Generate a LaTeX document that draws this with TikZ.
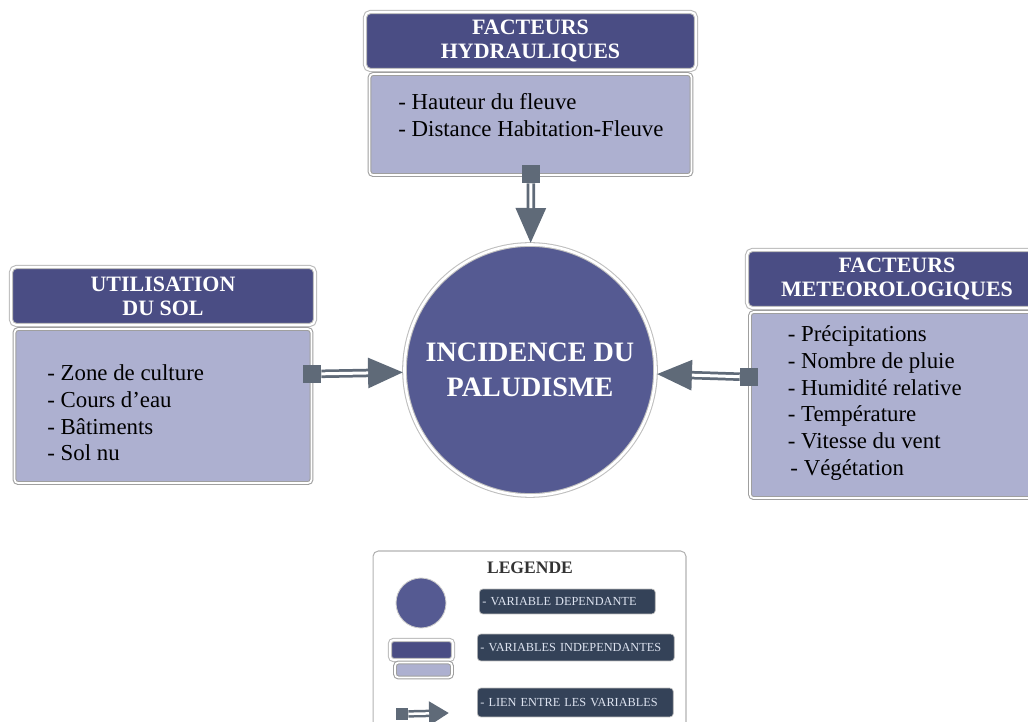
\documentclass[tikz,border=0pt]{standalone}
\usepackage{fontspec}
\setmainfont{Liberation Serif}
\usetikzlibrary{positioning,arrows.meta}
\definecolor{hdcol}{RGB}{74,77,132}
\definecolor{bdcol}{RGB}{173,176,208}
\definecolor{circol}{RGB}{85,90,146}
\definecolor{arrcol}{RGB}{95,106,120}
\definecolor{lgcol}{RGB}{52,66,88}
\definecolor{lgtext}{RGB}{221,227,240}
\begin{document}
\begin{tikzpicture}
  [x=0.02cm,y=-0.02cm,
   headbox/.style={rectangle,fill=hdcol,draw=gray!55,double=white,double distance=1.2pt,
     line width=0.6pt,rounded corners=3pt,text=white,align=center,
     font=\bfseries\fontsize{12.5}{13.6}\selectfont,minimum height=1.16cm},
   bodybox/.style={rectangle,fill=bdcol,draw=gray!75,double=white,double distance=1pt,
     line width=0.6pt,rounded corners=2pt},
   bodytext/.style={inner sep=0pt,align=left,font=\fontsize{13}{15.2}\selectfont},
   linksq/.style={rectangle,fill=arrcol,inner sep=0pt,minimum size=0.36cm},
   linkline/.style={draw=arrcol,line width=0.17cm,-{Triangle[length=0.72cm,width=0.56cm]}},
   linkgap/.style={draw=white,line width=0.06cm,shorten >=0.72cm},
   legtag/.style={rectangle,fill=lgcol,draw=gray!50,rounded corners=2pt,anchor=west,
     inner xsep=0.06cm,text=lgtext,align=left,font=\fontsize{7}{9}\selectfont}]
  \clip (0,0) rectangle (1028,722);

  % central variable
  \node (circ) [circle,fill=circol,draw=gray!50,double=white,double distance=1.5pt,
    line width=0.6pt,minimum size=5.02cm,text=white,align=center,
    font=\bfseries\fontsize{16}{20}\selectfont] at (530,370) {INCIDENCE DU\\PALUDISME};

  % independent variables
  \node (hydrohead) [headbox,minimum width=6.62cm] at (530.5,41) {FACTEURS\\HYDRAULIQUES};
  \node (hydrobody) [bodybox,below=0.06cm of hydrohead,minimum width=6.44cm,minimum height=2.02cm] {};
  \node (hydrotxt) [bodytext,below right=0.4cm and 0.58cm of hydrobody.north west]
    {- Hauteur du fleuve\\- Distance Habitation-Fleuve};

  \node (solhead) [headbox,minimum width=6.08cm] at (163,296) {UTILISATION\\DU SOL};
  \node (solbody) [bodybox,below=0.06cm of solhead,minimum width=5.94cm,minimum height=3.08cm] {};
  \node (soltxt) [bodytext,below right=0.72cm and 0.66cm of solbody.north west]
    {- Zone de culture\\- Cours d’eau\\- Bâtiments\\- Sol nu};

  \node (meteohead) [headbox,minimum width=6.0cm] at (897,279) {FACTEURS\\METEOROLOGIQUES};
  \node (meteobody) [bodybox,below=0.06cm of meteohead,minimum width=5.88cm,minimum height=3.72cm] {};
  \node (meteotxt) [bodytext,below right=0.28cm and 0.76cm of meteobody.north west]
    {- Précipitations\\- Nombre de pluie\\- Humidité relative\\- Température\\- Vitesse du vent\\\hspace{1.5pt}- Végétation};

  % links
  \node (hydrosq) [linksq] at (531,174) {};
  \node (solsq) [linksq] at (312,374) {};
  \node (meteosq) [linksq] at (749,377) {};
  \foreach \src in {hydrosq,solsq,meteosq}{
    \draw[linkline] (\src) -- (circ);
    \draw[linkgap] (\src) -- (circ);
  }

  % legend
  \node (legend) [rectangle,draw=gray!60,line width=0.6pt,rounded corners=3pt,
    minimum width=6.26cm,minimum height=3.8cm] at (529.5,646) {};
  \node (legtitle) [font=\bfseries\fontsize{10}{12}\selectfont,text=black!80] at (530,568) {LEGENDE};
  \node (legcirc) [circle,fill=circol,draw=gray!40,line width=0.5pt,minimum size=1cm] at (421,603) {};
  \node (leghead) [headbox,minimum width=1.26cm,minimum height=0.4cm,rounded corners=2pt] at (421.5,650) {};
  \node (legbody) [bodybox,minimum width=1.14cm,minimum height=0.3cm] at (423.5,670) {};
  \node (legsq) [linksq,minimum size=0.24cm] at (402,714) {};
  \coordinate (legtip) at (449,713);
  \draw[linkline,line width=0.15cm,-{Triangle[length=0.4cm,width=0.46cm]}] (legsq) -- (legtip);
  \draw[linkgap,line width=0.05cm,shorten >=0.4cm] (legsq) -- (legtip);
  \node (legdep) [legtag,text width=3.4cm,minimum height=0.5cm] at (479,601.5) {- VARIABLE DEPENDANTE};
  \node (legindep) [legtag,text width=3.82cm,minimum height=0.54cm] at (477,647.5) {- VARIABLES INDEPENDANTES};
  \node (leglink) [legtag,text width=3.8cm,minimum height=0.58cm] at (477,702.5) {- LIEN ENTRE LES VARIABLES};
\end{tikzpicture}
\end{document}
